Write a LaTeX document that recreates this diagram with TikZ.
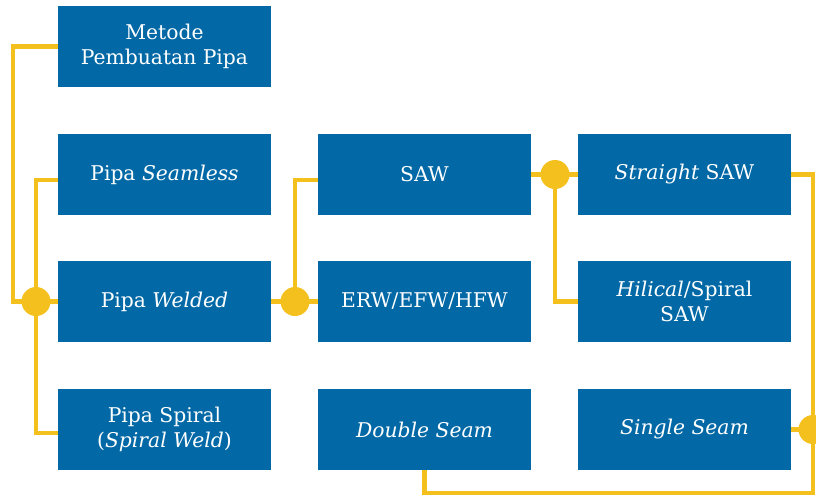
\documentclass[tikz,border=0pt]{standalone}
\usepackage{fontspec}
\setmainfont{DejaVu Serif}
\definecolor{boxblue}{RGB}{3,105,166}
\definecolor{linegold}{RGB}{244,192,30}
\tikzset{
  pbox/.style={fill=boxblue, draw=none, minimum width=213pt, minimum height=81pt, inner sep=0pt,
    text=white, align=center, font=\fontsize{20.3}{25}\selectfont},
  conn/.style={draw=linegold, line width=4.5pt},
  jdot/.style={circle, fill=linegold, draw=none, minimum size=29pt, inner sep=0pt}
}
\begin{document}
\begin{tikzpicture}[x=1pt,y=-1pt]
\useasboundingbox (0,0) rectangle (816,496);
% boxes
\node[pbox] (metode) at (164.5,46.5) {Metode\\Pembuatan Pipa};
\node[pbox] (seamless) at (164.5,174.5) {Pipa \textit{Seamless}};
\node[pbox] (welded) at (164.5,301.5) {Pipa \textit{Welded}};
\node[pbox] (spiral) at (164.5,429.5) {Pipa Spiral\\(\textit{Spiral Weld})};
\node[pbox] (saw) at (424.5,174.5) {SAW};
\node[pbox] (erw) at (424.5,301.5) {ERW/EFW/HFW};
\node[pbox] (double) at (424.5,429.5) {\textit{Double Seam}};
\node[pbox] (straight) at (684.5,174.5) {\textit{Straight} SAW};
\node[pbox] (hilical) at (684.5,301.5) {\textit{Hilical}/Spiral\\SAW};
\node[pbox] (single) at (684.5,429.5) {\textit{Single Seam}};
% junction coordinates
\coordinate (d1) at (36,301.5);
\coordinate (d2) at (295,301.5);
\coordinate (d3) at (555,174.5);
\coordinate (d4) at (813,429.5);
\coordinate (k1) at (13,46.5);
\coordinate (k2) at (813,174.5);
\coordinate (k3) at (813,493);
% connectors
\draw[conn] (metode.west) -- (k1) |- (d1);
\draw[conn] (d1) -- (welded.west);
\draw[conn] (d1) |- ([yshift=-5.5pt]seamless.west);
\draw[conn] (d1) |- ([yshift=-3.5pt]spiral.west);
\draw[conn] (welded.east) -- (d2) -- (erw.west);
\draw[conn] (d2) |- ([yshift=-5.5pt]saw.west);
\draw[conn] (saw.east) -- (d3) -- (straight.west);
\draw[conn] (d3) |- (hilical.west);
\draw[conn] (straight.east) -- (k2) -- (k3) -| (double.south);
\draw[conn] (single.east) -- (d4);
% dots
\node[jdot] (j1) at (d1) {};
\node[jdot] (j2) at (d2) {};
\node[jdot] (j3) at (d3) {};
\node[jdot] (j4) at (d4) {};
\end{tikzpicture}
\end{document}
